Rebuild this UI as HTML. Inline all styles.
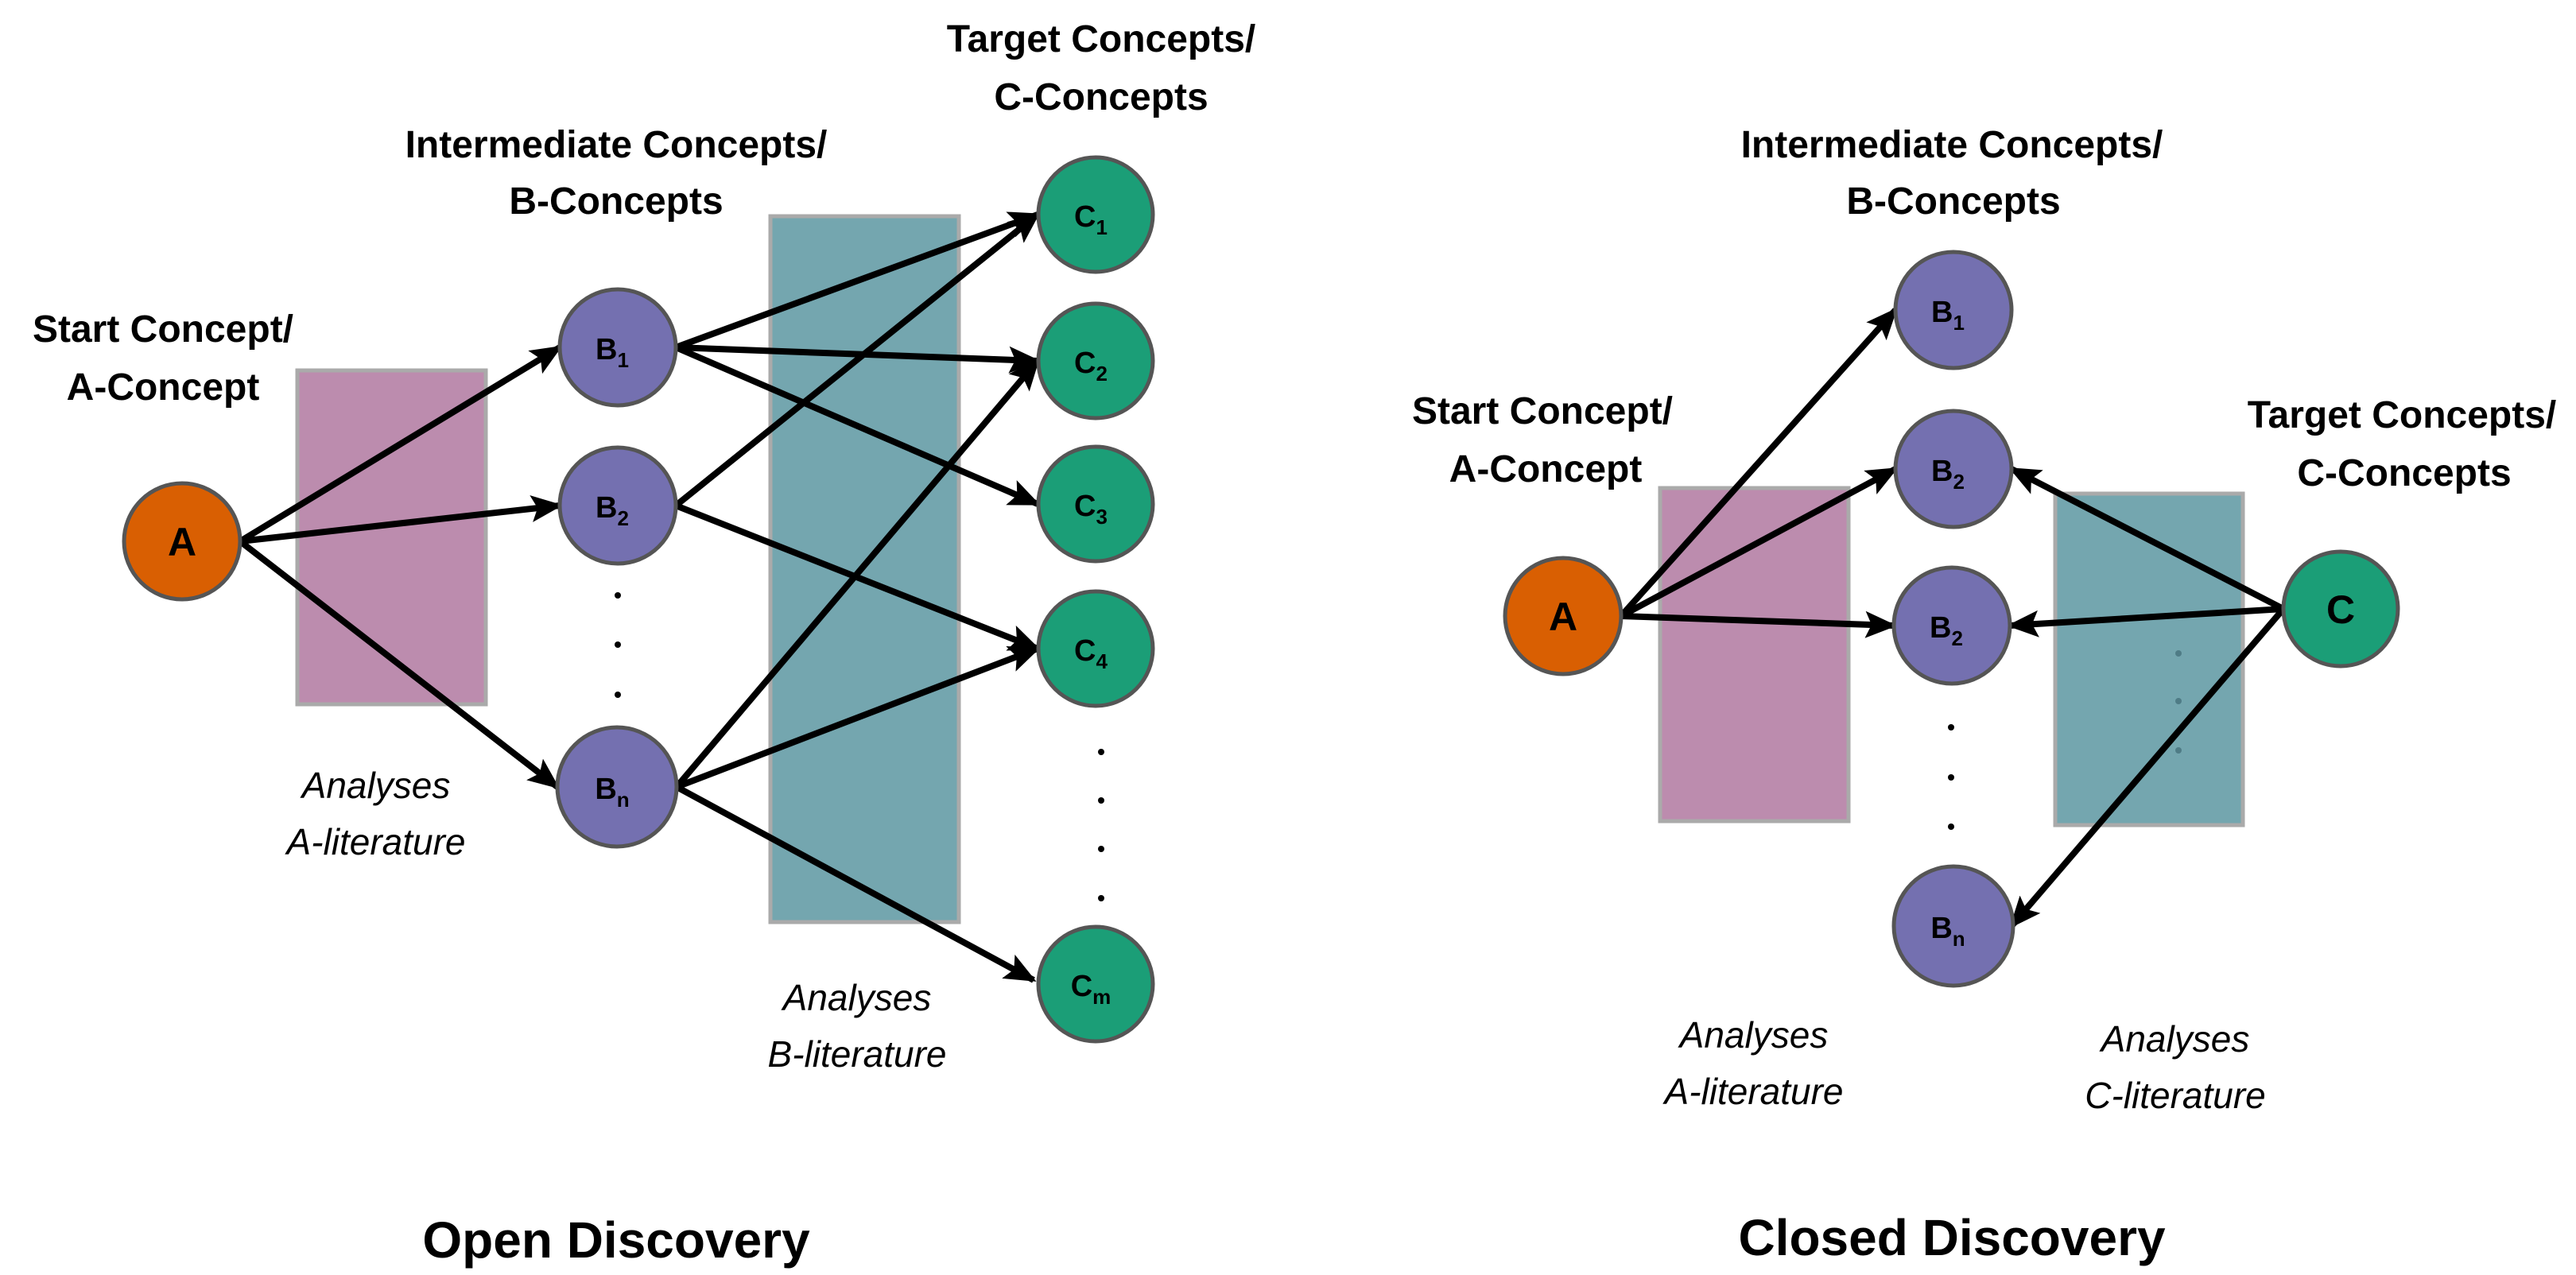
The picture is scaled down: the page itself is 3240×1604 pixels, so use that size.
<!DOCTYPE html>
<html><head><meta charset="utf-8"><style>
html,body{margin:0;padding:0;background:#fff}
svg{display:block}
text{font-family:"Liberation Sans",sans-serif}
.h{font-size:48px;font-weight:bold;text-anchor:middle}
.i{font-size:46px;font-style:italic;text-anchor:middle}
.t{font-size:64px;font-weight:bold;text-anchor:middle}
.n{font-size:38px;font-weight:bold;text-anchor:middle}
.s{font-size:26px;font-weight:bold}
.big{font-size:50px;font-weight:bold;text-anchor:middle}
.cA{fill:#D95F02;stroke:#555;stroke-width:5}
.cB{fill:#7470B0;stroke:#555;stroke-width:5}
.cC{fill:#1B9E77;stroke:#555;stroke-width:5}
.ar{stroke:#000;stroke-width:8;marker-end:url(#m)}
</style></head><body>
<svg width="3240" height="1604" viewBox="0 0 3240 1604" xmlns="http://www.w3.org/2000/svg">
<defs><marker id="m" markerUnits="userSpaceOnUse" markerWidth="40" markerHeight="34" refX="36" refY="17" orient="auto"><path d="M0,0 L40,17 L0,34 L8,17 Z" fill="#000"/></marker></defs>

<!-- Open discovery -->
<rect x="374" y="466" width="237" height="420" fill="#BC8CAE" stroke="#AAA" stroke-width="5"/>
<rect x="969" y="272" width="237" height="888" fill="#74A6AF" stroke="#AAA" stroke-width="5"/>

<line class="ar" x1="302" y1="681" x2="704" y2="437"/>
<line class="ar" x1="302" y1="681" x2="704" y2="636"/>
<line class="ar" x1="302" y1="681" x2="701" y2="990"/>
<line class="ar" x1="850" y1="437" x2="1305" y2="270"/>
<line class="ar" x1="850" y1="437" x2="1305" y2="454"/>
<line class="ar" x1="850" y1="437" x2="1305" y2="634"/>
<line class="ar" x1="850" y1="636" x2="1305" y2="270"/>
<line class="ar" x1="850" y1="636" x2="1305" y2="816"/>
<line class="ar" x1="851" y1="990" x2="1305" y2="454"/>
<line class="ar" x1="851" y1="990" x2="1305" y2="816"/>
<line class="ar" x1="851" y1="990" x2="1300" y2="1233"/>

<circle class="cA" cx="229" cy="681" r="73"/>
<text class="big" x="229" y="699">A</text>
<circle class="cB" cx="777" cy="437" r="73"/>
<text class="n" x="770" y="452">B<tspan class="s" dy="10">1</tspan></text>
<circle class="cB" cx="777" cy="636" r="73"/>
<text class="n" x="770" y="651">B<tspan class="s" dy="10">2</tspan></text>
<circle class="cB" cx="776" cy="990" r="75"/>
<text class="n" x="770" y="1005">B<tspan class="s" dy="10">n</tspan></text>
<g fill="#000"><circle cx="777" cy="749" r="4"/><circle cx="777" cy="811" r="4"/><circle cx="777" cy="874" r="4"/>
<circle cx="1385" cy="946" r="4"/><circle cx="1385" cy="1007" r="4"/><circle cx="1385" cy="1068" r="4"/><circle cx="1385" cy="1130" r="4"/></g>
<circle class="cC" cx="1378" cy="270" r="72"/><text class="n" x="1372" y="285">C<tspan class="s" dy="10">1</tspan></text>
<circle class="cC" cx="1378" cy="454" r="72"/><text class="n" x="1372" y="469">C<tspan class="s" dy="10">2</tspan></text>
<circle class="cC" cx="1378" cy="634" r="72"/><text class="n" x="1372" y="649">C<tspan class="s" dy="10">3</tspan></text>
<circle class="cC" cx="1378" cy="816" r="72"/><text class="n" x="1372" y="831">C<tspan class="s" dy="10">4</tspan></text>
<circle class="cC" cx="1378" cy="1238" r="72"/><text class="n" x="1372" y="1253">C<tspan class="s" dy="10">m</tspan></text>

<text class="h" x="205" y="430">Start Concept/</text>
<text class="h" x="205" y="503">A-Concept</text>
<text class="h" x="775" y="198">Intermediate Concepts/</text>
<text class="h" x="775" y="269">B-Concepts</text>
<text class="h" x="1385" y="65">Target Concepts/</text>
<text class="h" x="1385" y="138">C-Concepts</text>
<text class="i" x="473" y="1004">Analyses</text>
<text class="i" x="473" y="1075">A-literature</text>
<text class="i" x="1078" y="1271">Analyses</text>
<text class="i" x="1078" y="1342">B-literature</text>
<text class="t" x="775" y="1582">Open Discovery</text>

<!-- Closed discovery -->
<rect x="2088" y="614" width="237" height="419" fill="#BC8CAE" stroke="#AAA" stroke-width="5"/>
<rect x="2585" y="621" width="236" height="417" fill="#74A6AF" stroke="#AAA" stroke-width="5"/>
<g fill="#4F7C86"><circle cx="2740" cy="822" r="4"/><circle cx="2740" cy="882" r="4"/><circle cx="2740" cy="944" r="4"/></g>

<line class="ar" x1="2039" y1="775" x2="2384" y2="390"/>
<line class="ar" x1="2039" y1="775" x2="2384" y2="590"/>
<line class="ar" x1="2039" y1="775" x2="2382" y2="787"/>
<line class="ar" x1="2872" y1="766" x2="2530" y2="590"/>
<line class="ar" x1="2872" y1="766" x2="2528" y2="787"/>
<line class="ar" x1="2872" y1="766" x2="2530" y2="1165"/>

<circle class="cA" cx="1966" cy="775" r="73"/>
<text class="big" x="1966" y="793">A</text>
<circle class="cB" cx="2457" cy="390" r="73"/><text class="n" x="2450" y="405">B<tspan class="s" dy="10">1</tspan></text>
<circle class="cB" cx="2457" cy="590" r="73"/><text class="n" x="2450" y="605">B<tspan class="s" dy="10">2</tspan></text>
<circle class="cB" cx="2455" cy="787" r="73"/><text class="n" x="2448" y="802">B<tspan class="s" dy="10">2</tspan></text>
<circle class="cB" cx="2457" cy="1165" r="75"/><text class="n" x="2450" y="1180">B<tspan class="s" dy="10">n</tspan></text>
<g fill="#000"><circle cx="2454" cy="915" r="4"/><circle cx="2454" cy="978" r="4"/><circle cx="2454" cy="1040" r="4"/></g>
<circle class="cC" cx="2944" cy="766" r="72"/>
<text class="big" x="2944" y="784">C</text>

<text class="h" x="1940" y="533">Start Concept/</text>
<text class="h" x="1944" y="606">A-Concept</text>
<text class="h" x="2455" y="198">Intermediate Concepts/</text>
<text class="h" x="2457" y="269">B-Concepts</text>
<text class="h" x="3021" y="538">Target Concepts/</text>
<text class="h" x="3024" y="611">C-Concepts</text>
<text class="i" x="2206" y="1318">Analyses</text>
<text class="i" x="2206" y="1389">A-literature</text>
<text class="i" x="2736" y="1323">Analyses</text>
<text class="i" x="2736" y="1394">C-literature</text>
<text class="t" x="2455" y="1579">Closed Discovery</text>
</svg>
</body></html>
